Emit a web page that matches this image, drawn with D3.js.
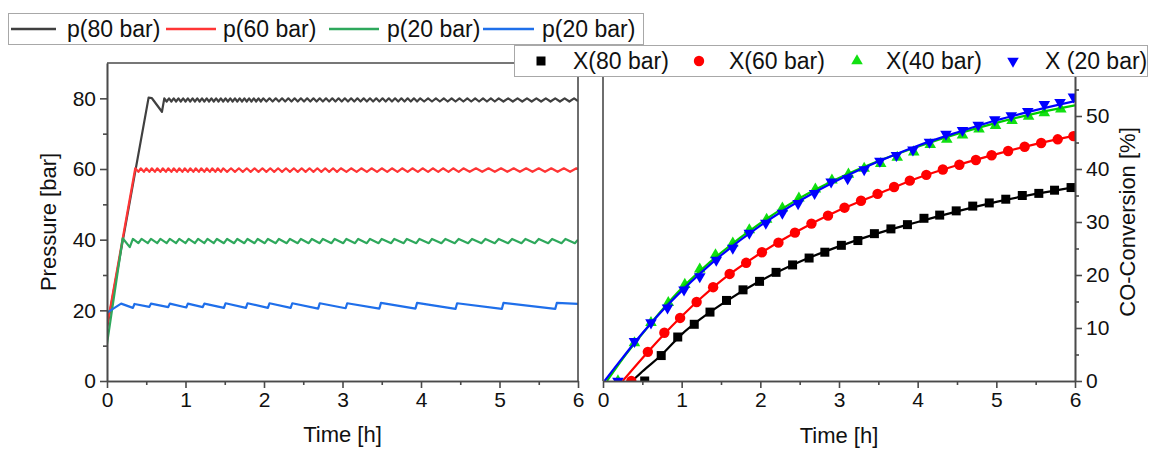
<!DOCTYPE html>
<html><head><meta charset="utf-8">
<script src="https://cdn.jsdelivr.net/npm/d3@7"></script>
<style>
body{margin:0;background:#fff}
svg{display:block}
text{font-family:"Liberation Sans",Arial,sans-serif;fill:#111}
</style>
</head><body>
<svg id="c" width="1149" height="449"></svg>
<script>
// ---------- data ----------
const timeTicks = [0, 1, 2, 3, 4, 5, 6];
const timeMinorTicks = [0.5, 1.5, 2.5, 3.5, 4.5, 5.5];
const pressureTicks = [0, 20, 40, 60, 80];
const pressureMinorTicks = [10, 30, 50, 70];
const conversionTicks = [0, 10, 20, 30, 40, 50];
const conversionMinorTicks = [5, 15, 25, 35, 45, 55];
const pressureLegend = ["p(80 bar)", "p(60 bar)", "p(20 bar)", "p(20 bar)"];
const conversionLegend = ["X(80 bar)", "X(60 bar)", "X(40 bar)", "X (20 bar)"];

// pressure traces [time h, pressure bar]
const p80 = [[0,15.0],[0.53,80.2],[0.57,80.1],[0.70,76.2],[0.73,80.0],
[0.76,79.1],[0.79,80.0],[0.82,79.1],[0.85,80.0],[0.88,79.1],[0.91,80.0],[0.94,79.1],[0.97,80.0],[1.00,79.1],[1.03,80.0],[1.06,79.1],[1.09,80.0],[1.12,79.1],[1.15,80.0],[1.18,79.1],[1.21,80.0],[1.24,79.1],[1.27,80.0],[1.30,79.1],[1.33,80.0],[1.36,79.1],[1.39,80.0],[1.42,79.1],[1.45,80.0],[1.48,79.1],[1.51,80.0],[1.54,79.1],[1.57,80.0],[1.60,79.1],[1.63,80.0],[1.66,79.1],[1.69,80.0],[1.72,79.1],[1.75,80.0],[1.78,79.1],[1.81,80.0],[1.84,79.1],[1.87,80.0],[1.90,79.1],[1.93,80.0],[1.96,79.1],[1.99,80.0],
[2.03,79.1],[2.07,80.0],[2.11,79.1],[2.15,80.0],[2.19,79.1],[2.23,80.0],[2.27,79.1],[2.31,80.0],[2.35,79.1],[2.39,80.0],[2.43,79.1],[2.47,80.0],[2.51,79.1],[2.55,80.0],[2.59,79.1],[2.63,80.0],[2.67,79.1],[2.71,80.0],[2.75,79.1],[2.79,80.0],[2.83,79.1],[2.87,80.0],[2.91,79.1],[2.95,80.0],[2.99,79.1],[3.03,80.0],[3.07,79.1],[3.11,80.0],[3.15,79.1],[3.19,80.0],[3.23,79.1],[3.27,80.0],[3.31,79.1],[3.35,80.0],[3.39,79.1],[3.43,80.0],[3.47,79.1],[3.51,80.0],[3.55,79.1],[3.59,80.0],[3.63,79.1],[3.67,80.0],[3.71,79.1],[3.75,80.0],[3.79,79.1],[3.83,80.0],[3.87,79.1],[3.91,80.0],[3.95,79.1],[3.99,80.0],
[4.04,79.1],[4.09,80.0],[4.14,79.1],[4.19,80.0],[4.24,79.1],[4.29,80.0],[4.34,79.1],[4.39,80.0],[4.44,79.1],[4.49,80.0],[4.54,79.1],[4.59,80.0],[4.64,79.1],[4.69,80.0],[4.74,79.1],[4.79,80.0],[4.84,79.1],[4.89,80.0],[4.94,79.1],[4.99,80.0],[5.05,79.1],[5.11,80.0],[5.17,79.1],[5.23,80.0],[5.29,79.1],[5.35,80.0],[5.41,79.1],[5.47,80.0],[5.53,79.1],[5.59,80.0],[5.65,79.1],[5.71,80.0],[5.77,79.1],[5.83,80.0],[5.89,79.1],[5.95,80.0],[6.00,79.2]];

const p60 = [[0,15.5],[0.36,60.2],
[0.40,59.2],[0.43,60.2],[0.47,59.2],[0.50,60.2],[0.54,59.2],[0.57,60.2],[0.61,59.2],[0.64,60.2],[0.68,59.2],[0.71,60.2],[0.75,59.2],[0.78,60.2],[0.82,59.2],[0.85,60.2],[0.89,59.2],[0.92,60.2],[0.96,59.2],[0.99,60.2],[1.03,59.2],[1.06,60.2],[1.10,59.2],[1.13,60.2],[1.17,59.2],[1.20,60.2],[1.24,59.2],[1.27,60.2],[1.31,59.2],[1.34,60.2],[1.38,59.2],[1.41,60.2],[1.45,59.2],[1.48,60.2],
[1.53,59.2],[1.58,60.2],[1.63,59.2],[1.68,60.2],[1.73,59.2],[1.78,60.2],[1.83,59.2],[1.88,60.2],[1.93,59.2],[1.98,60.2],[2.03,59.2],[2.08,60.2],[2.13,59.2],[2.18,60.2],[2.23,59.2],[2.28,60.2],[2.33,59.2],[2.38,60.2],[2.43,59.2],[2.48,60.2],[2.53,59.2],[2.58,60.2],[2.63,59.2],[2.68,60.2],[2.73,59.2],[2.78,60.2],[2.83,59.2],[2.88,60.2],[2.93,59.2],[2.98,60.2],
[3.05,59.2],[3.11,60.2],[3.18,59.2],[3.24,60.2],[3.31,59.2],[3.37,60.2],[3.44,59.2],[3.50,60.2],[3.57,59.2],[3.63,60.2],[3.70,59.2],[3.76,60.2],[3.83,59.2],[3.89,60.2],[3.96,59.2],[4.02,60.2],[4.09,59.2],[4.15,60.2],[4.22,59.2],[4.28,60.2],[4.35,59.2],[4.41,60.2],[4.48,59.2],[4.54,60.2],
[4.62,59.2],[4.70,60.2],[4.78,59.2],[4.86,60.2],[4.94,59.2],[5.02,60.2],[5.10,59.2],[5.18,60.2],[5.26,59.2],[5.34,60.2],[5.42,59.2],[5.50,60.2],[5.58,59.2],[5.66,60.2],[5.74,59.2],[5.82,60.2],[5.90,59.2],[5.98,60.2],[6.00,60.0]];

const p40 = [[0,10.5],[0.20,40.4],[0.29,37.9],[0.33,40.2],
[0.40,39.0],[0.44,40.2],[0.52,39.0],[0.56,40.2],[0.64,39.0],[0.68,40.2],[0.76,39.0],[0.80,40.2],[0.88,39.0],[0.92,40.2],[1.00,39.0],[1.04,40.2],[1.12,39.0],[1.16,40.2],[1.24,39.0],[1.28,40.2],[1.36,39.0],[1.40,40.2],[1.49,39.0],[1.53,40.2],[1.62,39.0],[1.66,40.2],[1.75,39.0],[1.79,40.2],[1.88,39.0],[1.92,40.2],[2.01,39.0],[2.05,40.2],[2.15,39.0],[2.19,40.2],[2.29,39.0],[2.33,40.2],[2.43,39.0],[2.47,40.2],[2.57,39.0],[2.61,40.2],[2.71,39.0],[2.75,40.2],[2.86,39.0],[2.90,40.2],[3.01,39.0],[3.05,40.2],[3.16,39.0],[3.20,40.2],[3.31,39.0],[3.35,40.2],[3.46,39.0],[3.50,40.2],[3.62,39.0],[3.66,40.2],[3.78,39.0],[3.82,40.2],[3.94,39.0],[3.98,40.2],[4.10,39.0],[4.14,40.2],[4.26,39.0],[4.31,40.2],[4.43,39.0],[4.48,40.2],[4.60,39.0],[4.65,40.2],[4.77,39.0],[4.82,40.2],[4.94,39.0],[4.99,40.2],[5.11,39.0],[5.16,40.2],[5.28,39.0],[5.33,40.2],[5.45,39.0],[5.50,40.2],[5.62,39.0],[5.67,40.2],[5.79,39.0],[5.84,40.2],[5.96,39.0],[6.00,40.0]];

const p20 = [[0,19.3],[0.06,20.2],[0.18,21.9],[0.33,20.7],[0.35,21.8],[0.54,21.0],[0.56,21.9],[0.78,20.9],[0.80,21.9],[1.01,20.8],[1.03,21.9],[1.22,20.9],[1.24,21.9],[1.49,20.7],[1.51,22.0],[1.77,20.7],[1.79,22.0],[2.05,20.7],[2.07,22.0],[2.34,20.7],[2.36,22.0],[2.69,20.5],[2.71,22.0],[3.04,20.6],[3.06,22.0],[3.47,20.5],[3.49,22.1],[3.93,20.5],[3.95,22.1],[4.44,20.4],[4.46,22.0],[5.03,20.4],[5.05,22.1],[5.71,20.4],[5.73,22.1],[6.00,21.8]];

// CO conversion measurements [time h, X %]
const x80 = [[0.53,0],[0.74,4.8],[0.95,8.3],[1.16,10.7],[1.36,13.0],[1.57,15.2],[1.78,17.2],[1.99,18.8],[2.20,20.5],[2.41,21.9],[2.62,23.2],[2.82,24.3],[3.03,25.6],[3.24,26.5],[3.45,27.8],[3.66,28.7],[3.87,29.5],[4.08,30.7],[4.28,31.3],[4.49,32.1],[4.70,33.0],[4.91,33.6],[5.12,34.3],[5.33,35.0],[5.54,35.4],[5.74,36.0],[5.95,36.5]];
const x60 = [[0.36,0],[0.57,5.5],[0.78,9.1],[0.98,11.9],[1.19,14.9],[1.40,17.7],[1.61,20.2],[1.82,22.3],[2.02,24.3],[2.23,26.1],[2.44,28.0],[2.65,29.7],[2.86,31.2],[3.07,32.7],[3.28,34.0],[3.49,35.3],[3.70,36.6],[3.90,37.8],[4.11,38.9],[4.32,39.9],[4.53,40.8],[4.74,41.7],[4.94,42.6],[5.15,43.4],[5.36,44.2],[5.57,44.9],[5.78,45.6],[5.98,46.2]];
const x40 = [[0.19,0],[0.40,7.2],[0.61,11.0],[0.83,14.8],[1.04,18.2],[1.23,21.1],[1.43,23.8],[1.65,26.0],[1.86,28.5],[2.08,30.5],[2.28,32.6],[2.49,34.5],[2.70,36.2],[2.91,37.9],[3.12,39.0],[3.32,40.1],[3.53,41.0],[3.74,42.2],[3.95,43.2],[4.16,44.6],[4.37,45.6],[4.57,46.4],[4.78,47.5],[4.99,48.2],[5.20,49.1],[5.41,49.9],[5.61,50.6],[5.82,51.3]];
const x20 = [[0.19,0],[0.40,7.5],[0.61,11.0],[0.82,13.8],[1.03,17.2],[1.23,19.7],[1.44,22.8],[1.65,25.1],[1.86,27.9],[2.07,29.8],[2.28,31.7],[2.48,33.5],[2.69,35.4],[2.90,37.6],[3.11,38.2],[3.32,39.9],[3.52,41.5],[3.73,42.6],[3.94,43.6],[4.15,45.1],[4.36,46.6],[4.57,47.3],[4.77,48.3],[4.98,49.3],[5.19,50.1],[5.40,50.9],[5.61,52.2],[5.81,52.6],[5.98,53.6]];

// fitted curves [time h, X %]
const fit80 = [[0.37,0],[0.5,1.8],[0.75,5.0],[1.0,8.8],[1.25,11.8],[1.5,14.4],[2.0,18.9],[2.5,22.5],[3.0,25.4],[3.5,27.9],[4.0,30.0],[4.5,32.0],[5.0,33.8],[5.5,35.3],[6.0,36.6]];
const fit60 = [[0.25,0],[0.5,4.3],[0.75,8.4],[1.0,12.2],[1.25,15.7],[1.5,18.9],[2.0,24.1],[2.5,28.5],[3.0,32.2],[3.5,35.3],[4.0,38.3],[4.5,40.7],[5.0,42.8],[5.5,44.7],[6.0,46.3]];
const fit40 = [[0.05,0],[0.25,4.2],[0.5,8.9],[0.75,13.4],[1.0,17.5],[1.25,21.0],[1.5,24.2],[2.0,29.8],[2.5,34.5],[3.0,38.3],[3.5,41.5],[4.0,44.2],[4.5,46.6],[5.0,48.7],[5.5,50.5],[6.0,52.0]];
const fit20 = [[0.02,0],[0.25,4.4],[0.5,9.0],[0.75,13.2],[1.0,17.0],[1.25,20.5],[1.5,23.7],[2.0,29.3],[2.5,34.0],[3.0,38.0],[3.5,41.4],[4.0,44.4],[4.5,46.9],[5.0,49.2],[5.5,51.1],[6.0,52.8]];

// ---------- drawing ----------
const FONT = '"Liberation Sans", Arial, sans-serif';
const AX = "#4a4a4a";
const svg = d3.select("#c");

const xL = d3.scaleLinear().domain([0, 6]).range([107, 578]);
const yL = d3.scaleLinear().domain([0, 90]).range([381, 63]);
const xR = d3.scaleLinear().domain([0, 6]).range([603, 1075]);
const yR = d3.scaleLinear().domain([0, 60]).range([381, 63]);

const defs = svg.append("defs");
defs.append("clipPath").attr("id", "clipL").append("rect")
  .attr("x", 107).attr("y", 63).attr("width", 471).attr("height", 318);
defs.append("clipPath").attr("id", "clipR").append("rect")
  .attr("x", 603).attr("y", 63).attr("width", 472).attr("height", 318);

function styleAxis(g, size) {
  g.attr("font-family", FONT).attr("font-size", size);
  g.selectAll("path").attr("stroke", AX).attr("stroke-width", 1.6);
  g.selectAll("line").attr("stroke", AX).attr("stroke-width", 1.6);
  g.selectAll("text").attr("fill", "#111");
}

// ---- left panel ----
const leftLines = [
  {data: p80, color: "#404040"},
  {data: p60, color: "#ff3535"},
  {data: p40, color: "#2ea85c"},
  {data: p20, color: "#1f6fea"}
];
const lineL = d3.line().x(d => xL(d[0])).y(d => yL(d[1]));
const gL = svg.append("g").attr("clip-path", "url(#clipL)");
leftLines.forEach(s => {
  gL.append("path").datum(s.data).attr("d", lineL)
    .attr("fill", "none").attr("stroke", s.color).attr("stroke-width", 2.2)
    .attr("stroke-linejoin", "round");
});

// frame left
svg.append("line").attr("x1", 107).attr("x2", 578).attr("y1", yL(90)).attr("y2", yL(90)).attr("stroke", AX).attr("stroke-width", 1.6);
svg.append("line").attr("x1", 578).attr("x2", 578).attr("y1", yL(90)).attr("y2", yL(0)).attr("stroke", AX).attr("stroke-width", 1.6);

const axBL = svg.append("g").attr("transform", "translate(0,381)")
  .call(d3.axisBottom(xL).tickValues(timeTicks).tickSize(7).tickSizeOuter(0).tickPadding(4).tickFormat(d3.format("d")));
styleAxis(axBL, 21);
const axBLm = svg.append("g").attr("transform", "translate(0,381)")
  .call(d3.axisBottom(xL).tickValues(timeMinorTicks).tickSize(4).tickSizeOuter(0).tickFormat(""));
styleAxis(axBLm, 21);

const axLL = svg.append("g").attr("transform", "translate(107,0)")
  .call(d3.axisLeft(yL).tickValues(pressureTicks).tickSize(7).tickSizeOuter(0).tickPadding(4));
styleAxis(axLL, 21);
const axLLm = svg.append("g").attr("transform", "translate(107,0)")
  .call(d3.axisLeft(yL).tickValues(pressureMinorTicks).tickSize(4).tickSizeOuter(0).tickFormat(""));
styleAxis(axLLm, 21);

svg.append("text").attr("transform", "translate(56,222) rotate(-90)")
  .attr("text-anchor", "middle").attr("font-size", 22).text("Pressure [bar]");
svg.append("text").attr("x", 342.5).attr("y", 442)
  .attr("text-anchor", "middle").attr("font-size", 22).text("Time [h]");

// ---- right panel ----
const rightSeries = [
  {data: x80, fit: fit80, color: "#000000", fitColor: "#000000", shape: "square"},
  {data: x60, fit: fit60, color: "#ff0000", fitColor: "#ff0000", shape: "circle"},
  {data: x40, fit: fit40, color: "#11e011", fitColor: "#00cc00", shape: "tri"},
  {data: x20, fit: fit20, color: "#0000ff", fitColor: "#0000ff", shape: "triDown"}
];
function symPath(shape) {
  if (shape === "square") return d3.symbol(d3.symbolSquare, 81)();
  if (shape === "circle") return d3.symbol(d3.symbolCircle, 85)();
  return d3.symbol(d3.symbolTriangle, 58)();
}
function symTransform(shape, x, y) {
  return shape === "triDown" ? `translate(${x},${y}) rotate(180)` : `translate(${x},${y})`;
}
const lineR = d3.line().x(d => xR(d[0])).y(d => yR(d[1])).curve(d3.curveMonotoneX);
const gR = svg.append("g").attr("clip-path", "url(#clipR)");
rightSeries.forEach(s => {
  gR.append("g").selectAll("path").data(s.data).join("path")
    .attr("d", symPath(s.shape))
    .attr("transform", d => symTransform(s.shape, xR(d[0]), yR(d[1])))
    .attr("fill", s.color);
  gR.append("path").datum(s.fit).attr("d", lineR)
    .attr("fill", "none").attr("stroke", s.fitColor).attr("stroke-width", 2.2);
});

// frame right
svg.append("line").attr("x1", 603).attr("x2", 1075).attr("y1", yR(60)).attr("y2", yR(60)).attr("stroke", AX).attr("stroke-width", 1.6);
svg.append("line").attr("x1", 603).attr("x2", 603).attr("y1", yR(60)).attr("y2", yR(0)).attr("stroke", AX).attr("stroke-width", 1.6);

const axBR = svg.append("g").attr("transform", "translate(0,381)")
  .call(d3.axisBottom(xR).tickValues(timeTicks).tickSize(7).tickSizeOuter(0).tickPadding(4).tickFormat(d3.format("d")));
styleAxis(axBR, 21);
const axBRm = svg.append("g").attr("transform", "translate(0,381)")
  .call(d3.axisBottom(xR).tickValues(timeMinorTicks).tickSize(4).tickSizeOuter(0).tickFormat(""));
styleAxis(axBRm, 21);

const axRR = svg.append("g").attr("transform", "translate(1075,0)")
  .call(d3.axisRight(yR).tickValues(conversionTicks).tickSize(7).tickSizeOuter(0).tickPadding(4));
styleAxis(axRR, 21);
const axRRm = svg.append("g").attr("transform", "translate(1075,0)")
  .call(d3.axisRight(yR).tickValues(conversionMinorTicks).tickSize(4).tickSizeOuter(0).tickFormat(""));
styleAxis(axRRm, 21);

svg.append("text").attr("transform", "translate(1135,222) rotate(-90)")
  .attr("text-anchor", "middle").attr("font-size", 22).text("CO-Conversion [%]");
svg.append("text").attr("x", 839).attr("y", 443)
  .attr("text-anchor", "middle").attr("font-size", 22).text("Time [h]");

// ---- legends ----
const legL = svg.append("g");
legL.append("rect").attr("x", 8.5).attr("y", 13.5).attr("width", 635).attr("height", 31)
  .attr("fill", "#fff").attr("stroke", "#a8a8a8").attr("stroke-width", 1);
const legLPos = [{x1: 11, x2: 56, tx: 67}, {x1: 166, x2: 216, tx: 223}, {x1: 329, x2: 379, tx: 387}, {x1: 483, x2: 534, tx: 542}];
pressureLegend.forEach((label, i) => {
  const p = legLPos[i];
  legL.append("line").attr("x1", p.x1).attr("x2", p.x2).attr("y1", 29).attr("y2", 29)
    .attr("stroke", leftLines[i].color).attr("stroke-width", 2.5);
  legL.append("text").attr("x", p.tx).attr("y", 37).attr("font-size", 23).text(label);
});

const legR = svg.append("g");
legR.append("rect").attr("x", 514.5).attr("y", 45.5).attr("width", 633).attr("height", 31)
  .attr("fill", "#fff").attr("stroke", "#a8a8a8").attr("stroke-width", 1);
const legRPos = [{mx: 541, tx: 573}, {mx: 699, tx: 729}, {mx: 857, tx: 886}, {mx: 1013, tx: 1045}];
conversionLegend.forEach((label, i) => {
  const p = legRPos[i], s = rightSeries[i];
  legR.append("path").attr("d", symPath(s.shape))
    .attr("transform", symTransform(s.shape, p.mx, 61)).attr("fill", s.color);
  legR.append("text").attr("x", p.tx).attr("y", 69).attr("font-size", 23).text(label);
});
</script>
</body></html>
